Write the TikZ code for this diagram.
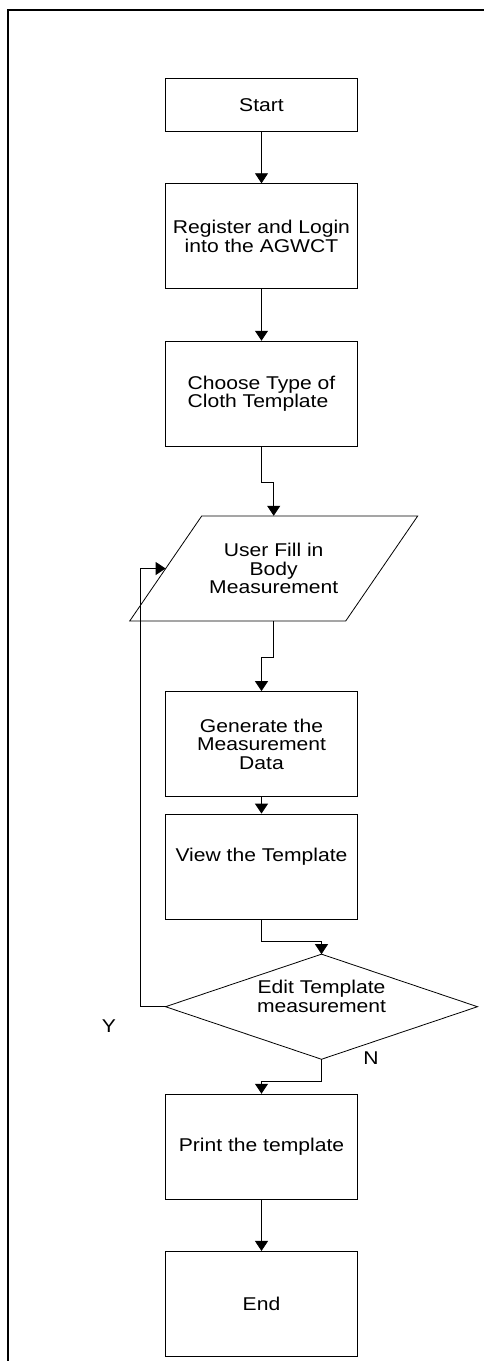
\documentclass[tikz,border=0pt]{standalone}
\usepackage{fontspec}
\setmainfont{Liberation Sans}[FakeStretch=1.14]
\usetikzlibrary{arrows.meta}
\tikzset{
  box/.style={draw, line width=0.8pt, minimum width=192.4pt, minimum height=105pt,
    inner sep=0pt, align=center, font=\fontsize{18.5}{18.5}\selectfont},
  txt/.style={inner sep=0pt, align=center, font=\fontsize{18.5}{18.5}\selectfont},
  arr/.style={line width=0.8pt, -{Triangle[length=10pt,width=13pt]}},
  frame/.style={line width=2pt}
}
\begin{document}
\begin{tikzpicture}[x=1pt, y=-1pt]
\useasboundingbox (0,0) rectangle (484,1361);
% page frame (top and left edges)
\draw[frame] (8.3,1361) -- (8.3,10) -- (484,10);

% process boxes
\node[box, minimum height=52.3pt] (start) at (261.5,104.85) {Start};
\node[box] (reg) at (261.5,236.2) {Register and Login\\into the AGWCT};
\node[box, align=left] (choose) at (261.5,393.65) {Choose Type of\\Cloth Template};

% input (parallelogram)
\node[txt, minimum width=215.8pt, minimum height=105pt] (par) at (273.7,568.5)
  {User Fill in\\Body\\Measurement};
\draw[line width=0.8pt] (par.center) ++(-72,-52.5) -- ++(216,0) -- ++(-72,105)
  -- ++(-216,0) -- cycle;

\node[box] (gen) at (261.5,744) {Generate the\\Measurement\\Data};
\node[box] (view) at (261.5,866.5) {};
\node[txt] (viewtxt) at (261.5,856.7) {View the Template};

% decision
\node[txt, minimum width=311.6pt, minimum height=104.7pt] (dia) at (321.5,1006.7) {};
\draw[line width=0.8pt] (dia.north) -- (dia.east) -- (dia.south) -- (dia.west) -- cycle;
\node[txt] (diatxt) at (321.5,996.5) {Edit Template\\measurement};
\node[txt] (ylab) at (109,1026) {Y};
\node[txt] (nlab) at (371,1057.7) {N};

\node[box] (print) at (261.5,1146.65) {Print the template};
\node[box] (end) at (261.5,1303.85) {End};

% connectors
\draw[arr] (start.south) -- (reg.north);
\draw[arr] (reg.south) -- (choose.north);
\draw[arr] (choose.south) -- ++(0,35.7) -| (par.north);
\draw[arr] (par.south) -- ++(0,35.7) -| (gen.north);
\draw[arr] (gen.south) -- (view.north);
\draw[arr] (view.south) -- ++(0,22) -| (dia.north);
\draw[arr] (dia.west) -- ++(-25,0) |- (par.west);
\draw[arr] (dia.south) -- ++(0,22.3) -| (print.north);
\draw[arr] (print.south) -- (end.north);
\end{tikzpicture}
\end{document}
